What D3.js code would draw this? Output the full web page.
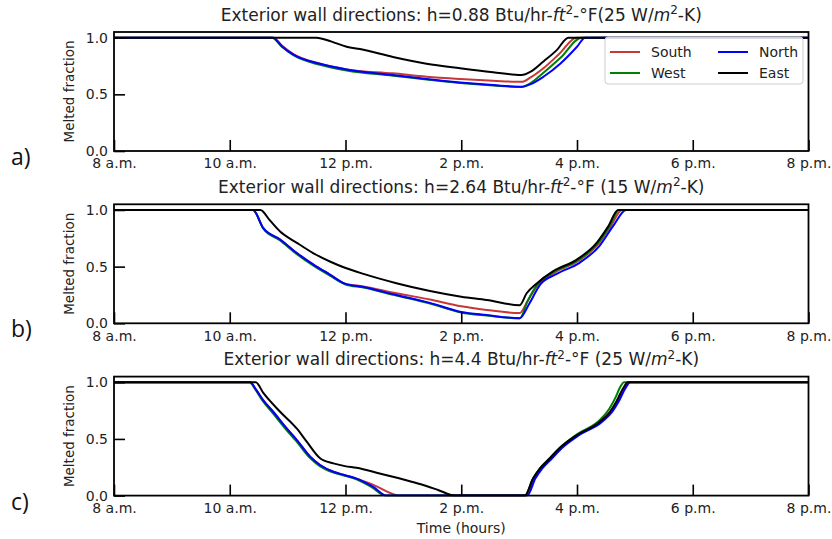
<!DOCTYPE html>
<html>
<head>
<meta charset="utf-8">
<script src="https://cdn.jsdelivr.net/npm/d3@7"></script>
<style>
  body { margin: 0; background: #fff; }
  svg { display: block; font-family: "DejaVu Sans", sans-serif; }
</style>
</head>
<body>
<svg id="chart"></svg>
<script>
const width = 832;
const height = 539;

const hourTicks = [8, 10, 12, 14, 16, 18, 20];
const hourLabels = ['8 a.m.', '10 a.m.', '12 p.m.', '2 p.m.', '4 p.m.', '6 p.m.', '8 p.m.'];
const fractionTicks = [0, 0.5, 1];

const seriesNames = ['South', 'West', 'North', 'East'];
const seriesColors = ['#c83737', '#008000', '#0000ff', '#000000'];

// panel a: h = 0.88
const southA = [[8,1],[10.75,1],[10.9,0.93],[11.1,0.855],[11.56,0.77],[12.02,0.72],[12.82,0.685],[13.4,0.655],[13.98,0.635],[14.55,0.62],[15.04,0.61],[15.2,0.65],[15.42,0.73],[15.7,0.86],[15.99,1],[20,1]];
const westA = [[8,1],[10.73,1],[10.9,0.92],[11.1,0.845],[11.56,0.76],[12.02,0.71],[12.82,0.665],[13.4,0.63],[13.98,0.6],[14.55,0.578],[15.04,0.565],[15.2,0.6],[15.42,0.69],[15.71,0.82],[16.08,1],[20,1]];
const northA = [[8,1],[10.75,1],[10.9,0.925],[11.1,0.85],[11.56,0.77],[12.02,0.72],[12.82,0.67],[13.4,0.635],[13.98,0.605],[14.55,0.582],[15.04,0.567],[15.2,0.59],[15.42,0.655],[15.71,0.77],[16.0,0.92],[16.14,1],[20,1]];
const eastA = [[8,1],[11.5,1],[11.76,0.965],[12.02,0.92],[12.25,0.9],[12.82,0.83],[13.4,0.77],[13.98,0.73],[14.55,0.695],[15.04,0.67],[15.2,0.7],[15.42,0.79],[15.65,0.89],[15.85,1],[20,1]];

// panel b: h = 2.64
const southB = [[8,1],[10.4,1],[10.58,0.84],[10.87,0.74],[11.16,0.62],[11.44,0.52],[11.73,0.43],[11.99,0.35],[12.31,0.325],[12.88,0.265],[13.46,0.21],[14.0,0.15],[14.44,0.118],[15.01,0.09],[15.15,0.2],[15.33,0.345],[15.62,0.45],[16.02,0.55],[16.37,0.7],[16.58,0.855],[16.78,1],[20,1]];
const westB = [[8,1],[10.4,1],[10.58,0.835],[10.87,0.73],[11.16,0.61],[11.44,0.51],[11.73,0.42],[11.99,0.345],[12.31,0.315],[12.88,0.245],[13.46,0.175],[14.0,0.095],[14.44,0.068],[15.01,0.045],[15.15,0.2],[15.32,0.345],[15.61,0.455],[16.01,0.555],[16.36,0.705],[16.56,0.855],[16.73,1],[20,1]];
const northB = [[8,1],[10.4,1],[10.58,0.84],[10.87,0.74],[11.16,0.62],[11.44,0.52],[11.73,0.43],[11.99,0.35],[12.31,0.32],[12.88,0.25],[13.46,0.18],[14.0,0.1],[14.44,0.073],[15.01,0.045],[15.18,0.177],[15.36,0.34],[15.65,0.436],[16.05,0.536],[16.39,0.684],[16.62,0.855],[16.85,1],[20,1]];
const eastB = [[8,1],[10.53,1],[10.69,0.91],[10.87,0.81],[11.16,0.71],[11.44,0.62],[11.73,0.545],[11.99,0.49],[12.31,0.436],[12.88,0.354],[13.46,0.285],[14.0,0.235],[14.44,0.206],[15.01,0.16],[15.13,0.265],[15.3,0.35],[15.59,0.46],[15.99,0.56],[16.34,0.71],[16.54,0.855],[16.71,1],[20,1]];

// panel c: h = 4.4
const southC = [[8,1],[10.35,1],[10.46,0.93],[10.58,0.84],[10.75,0.74],[10.98,0.595],[11.16,0.49],[11.39,0.343],[11.56,0.27],[11.79,0.21],[11.99,0.18],[12.19,0.15],[12.48,0.095],[12.94,0],[15.12,0],[15.26,0.15],[15.38,0.24],[15.55,0.33],[15.72,0.42],[16.02,0.535],[16.41,0.65],[16.59,0.74],[16.7,0.83],[16.82,0.95],[16.88,1],[20,1]];
const westC = [[8,1],[10.34,1],[10.45,0.93],[10.57,0.835],[10.74,0.73],[10.97,0.585],[11.15,0.48],[11.38,0.335],[11.55,0.262],[11.78,0.205],[11.99,0.175],[12.19,0.143],[12.45,0.075],[12.69,0],[15.1,0],[15.24,0.15],[15.36,0.24],[15.53,0.33],[15.7,0.42],[16.0,0.54],[16.38,0.66],[16.55,0.76],[16.66,0.86],[16.76,0.97],[16.81,1],[20,1]];
const northC = [[8,1],[10.35,1],[10.46,0.93],[10.58,0.84],[10.75,0.74],[10.98,0.595],[11.16,0.49],[11.39,0.343],[11.56,0.27],[11.79,0.21],[11.99,0.18],[12.19,0.15],[12.48,0.077],[12.71,0],[15.14,0],[15.28,0.15],[15.4,0.24],[15.57,0.33],[15.74,0.42],[16.04,0.535],[16.43,0.65],[16.61,0.74],[16.72,0.83],[16.84,0.95],[16.92,1],[20,1]];
const eastC = [[8,1],[10.45,1],[10.58,0.906],[10.87,0.74],[11.16,0.59],[11.33,0.476],[11.56,0.33],[11.79,0.284],[11.99,0.26],[12.19,0.245],[12.59,0.195],[13.05,0.136],[13.3,0.1],[13.6,0.05],[13.89,0],[15.1,0],[15.24,0.15],[15.36,0.24],[15.53,0.33],[15.7,0.42],[16.0,0.535],[16.39,0.65],[16.57,0.74],[16.68,0.83],[16.8,0.95],[16.88,1],[20,1]];

const panels = [
  { tag: 'a)', h: '0.88', si: '(25 W/', gap: '', series: [southA, westA, northA, eastA], legend: true },
  { tag: 'b)', h: '2.64', si: '(15 W/', gap: ' ', series: [southB, westB, northB, eastB], legend: false },
  { tag: 'c)', h: '4.4', si: '(25 W/', gap: ' ', series: [southC, westC, northC, eastC], legend: false }
];

const plotLeft = 114;
const plotRight = 808.5;
const plotTop0 = 32;
const plotH = 119;
const panelStep = 172.3;

const svg = d3.select('#chart')
  .attr('width', width)
  .attr('height', height);

const x = d3.scaleLinear().domain([8, 20]).range([plotLeft, plotRight]);

panels.forEach((p, i) => {
  const top = plotTop0 + i * panelStep;
  const bottom = top + plotH;
  const y = d3.scaleLinear().domain([0, 1.05]).range([bottom, top]);
  const g = svg.append('g');

  const clipId = 'clip' + i;
  g.append('clipPath').attr('id', clipId)
    .append('rect')
    .attr('x', plotLeft).attr('y', top - 1)
    .attr('width', plotRight - plotLeft).attr('height', plotH + 2);

  const line = d3.line()
    .x(d => x(d[0]))
    .y(d => y(d[1]))
    .curve(d3.curveMonotoneX);

  g.append('g').attr('clip-path', `url(#${clipId})`)
    .selectAll('path')
    .data(p.series)
    .enter()
    .append('path')
    .attr('d', line)
    .attr('fill', 'none')
    .attr('stroke', (d, k) => seriesColors[k])
    .attr('stroke-width', 2);

  // axes with inward ticks
  const xAxis = d3.axisBottom(x)
    .tickValues(hourTicks)
    .tickFormat((d, k) => hourLabels[k])
    .tickSizeInner(-11)
    .tickSizeOuter(0)
    .tickPadding(7.5);
  const xg = g.append('g').attr('transform', `translate(0,${bottom})`).call(xAxis);

  const yAxis = d3.axisLeft(y)
    .tickValues(fractionTicks)
    .tickFormat(d3.format('.1f'))
    .tickSizeInner(-11)
    .tickSizeOuter(0)
    .tickPadding(6);
  const yg = g.append('g').attr('transform', `translate(${plotLeft},0)`).call(yAxis);

  [xg, yg].forEach(ax => {
    ax.select('.domain').remove();
    ax.selectAll('.tick line').attr('stroke', '#000').attr('stroke-width', 1.6);
    ax.selectAll('.tick text')
      .attr('fill', '#222')
      .style('font-size', '14px')
      .style('font-family', '"DejaVu Sans", sans-serif');
  });

  g.append('rect')
    .attr('x', plotLeft).attr('y', top)
    .attr('width', plotRight - plotLeft).attr('height', plotH)
    .attr('fill', 'none')
    .attr('stroke', '#000')
    .attr('stroke-width', 1.8);

  // title
  const title = g.append('text')
    .attr('x', (plotLeft + plotRight) / 2)
    .attr('y', top - 11.5)
    .attr('text-anchor', 'middle')
    .style('font-size', '17px')
    .attr('fill', '#222');
  title.append('tspan').text(`Exterior wall directions: h=${p.h} Btu/hr-`);
  title.append('tspan').attr('font-style', 'italic').text('ft');
  title.append('tspan').attr('dy', -6.5).style('font-size', '12px').text('2');
  title.append('tspan').attr('dy', 6.5).text(`-°F${p.gap}${p.si}`);
  title.append('tspan').attr('font-style', 'italic').text('m');
  title.append('tspan').attr('dy', -6.5).style('font-size', '12px').text('2');
  title.append('tspan').attr('dy', 6.5).text('-K)');

  g.append('text')
    .attr('transform', `translate(74,${(top + bottom) / 2}) rotate(-90)`)
    .attr('text-anchor', 'middle')
    .style('font-size', '13.5px')
    .attr('fill', '#222')
    .text('Melted fraction');

  g.append('text')
    .attr('x', 11)
    .attr('y', bottom + 14)
    .style('font-family', '"Open Sans", sans-serif')
    .style('font-size', '23px')
    .attr('fill', '#111')
    .text(p.tag);

  if (p.legend) {
    const lg = g.append('g').attr('transform', 'translate(605,37)');
    lg.append('rect')
      .attr('width', 198).attr('height', 47).attr('rx', 3)
      .attr('fill', '#fff').attr('fill-opacity', 0.85)
      .attr('stroke', '#ccc');
    const item = lg.selectAll('g.item')
      .data(seriesNames)
      .enter()
      .append('g')
      .attr('class', 'item')
      .attr('transform', (d, k) => `translate(${Math.floor(k / 2) * 108 + 5},${(k % 2) * 21 + 15})`);
    item.append('line')
      .attr('x1', 0).attr('x2', 30)
      .attr('stroke', (d, k) => seriesColors[k])
      .attr('stroke-width', 2);
    item.append('text')
      .attr('x', 41).attr('y', 5)
      .style('font-size', '14px')
      .attr('fill', '#222')
      .text(d => d);
  }
});

svg.append('text')
  .attr('x', (plotLeft + plotRight) / 2)
  .attr('y', 533)
  .attr('text-anchor', 'middle')
  .style('font-size', '14px')
  .attr('fill', '#222')
  .text('Time (hours)');
</script>
</body>
</html>
